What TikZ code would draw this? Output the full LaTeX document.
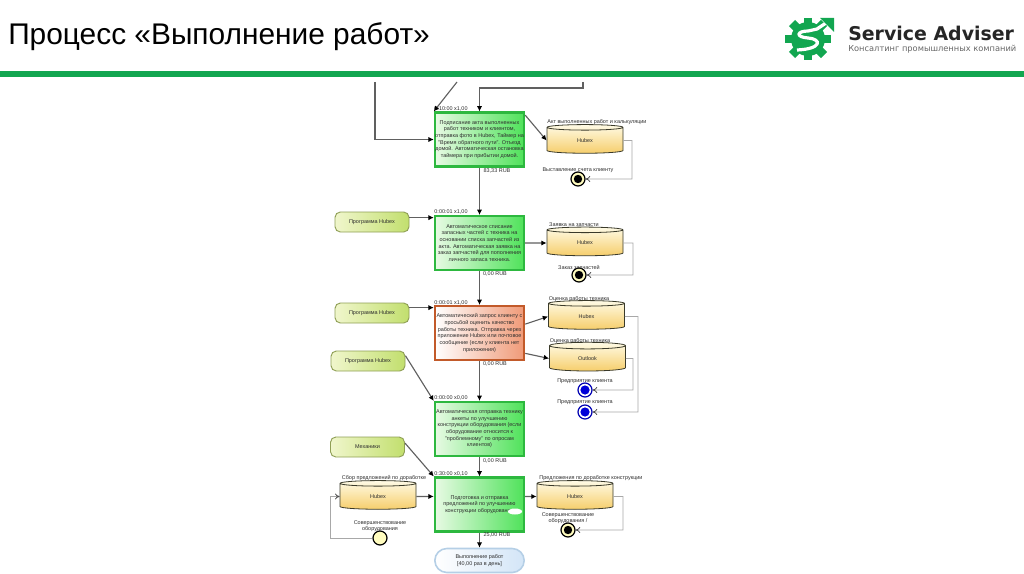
\documentclass[tikz,border=0pt]{standalone}
\usepackage{fontspec}
\setmainfont{Liberation Sans}
\newfontfamily\brandfont{DejaVu Sans}
\usetikzlibrary{arrows.meta,shapes.geometric,shapes.misc}
\definecolor{brandgreen}{HTML}{12A650}
\definecolor{boxgreen}{HTML}{2DB83F}
\definecolor{boxorange}{HTML}{C25A2A}
\definecolor{pillgreen}{HTML}{8F9F55}
\definecolor{cyledge}{HTML}{3A3A2A}
\definecolor{flowgrey}{HTML}{606060}
\definecolor{evgrey}{HTML}{A8A8A8}
\definecolor{inkgrey}{HTML}{2E2E2E}
\definecolor{greenlight}{HTML}{E8FAE4}
\definecolor{greenfull}{HTML}{4FE25A}
\definecolor{orangefull}{HTML}{F09A78}
\definecolor{pilllight}{HTML}{F0F6CC}
\definecolor{pillfull}{HTML}{C2DF6E}
\definecolor{storelight}{HTML}{FFFBE6}
\definecolor{storefull}{HTML}{F6CE6C}
\definecolor{bluefull}{HTML}{D3E5F7}
\definecolor{blueedge}{HTML}{B5CFE6}
\newcommand{\tinyfont}{\fontsize{4.1}{5}\selectfont}

\begin{document}
\begin{tikzpicture}[x=0.75pt, y=-0.75pt,
  every node/.style={font=\tinyfont, text=inkgrey, inner sep=0pt, align=center},
  taskgreen/.style={draw=boxgreen, line width=1.6pt, left color=greenlight, right color=greenfull, minimum width=67pt, minimum height=40.5pt},
  taskorange/.style={draw=boxorange, line width=1.6pt, left color=white, right color=orangefull, minimum width=67pt, minimum height=40.5pt},
  pill/.style={draw=pillgreen, line width=0.7pt, rounded corners=4pt, left color=pilllight, right color=pillfull, minimum width=55.5pt, minimum height=15pt},
  terminal/.style={draw=blueedge, line width=1.2pt, rounded rectangle, left color=white, right color=bluefull, minimum width=67pt, minimum height=18pt},
  store/.style={cylinder, shape border rotate=90, shape aspect=0.35, draw=cyledge, line width=0.6pt, top color=storelight, bottom color=storefull, minimum width=57pt, minimum height=21.5pt},
  evblack/.style={circle, draw=black, line width=0.9pt, fill=yellow!25, minimum size=10.5pt, path picture={\fill[black] (path picture bounding box.center) circle (4.2);}},
  evblue/.style={circle, draw=blue!70!black, line width=0.9pt, fill=white, minimum size=10.5pt, path picture={\fill[blue!85!black] (path picture bounding box.center) circle (4.6);}},
  evstart/.style={circle, draw=black, line width=0.9pt, fill=yellow!25, minimum size=10.5pt},
  flow/.style={draw=flowgrey, line width=0.85pt, -{Latex[black,length=4pt,width=4pt]}},
  evflow/.style={draw=evgrey, line width=0.6pt, -{To[black!70,length=3.5pt,width=4.5pt]}},
  gear/.style={draw=brandgreen, line width=6.5pt}
]
\useasboundingbox (0,0) rectangle (1024,574);

  % Header
  \node[font=\fontsize{22.4}{26}\selectfont, text=black, anchor=west] (title) at (8,37) {Процесс «Выполнение работ»};
  \fill[brandgreen] (0,71) rectangle (1024,77);

  % Logo
  \fill[brandgreen] (808,39) circle (17);
  \draw[gear] (785,39) -- (831,39);
  \draw[gear] (808,18) -- (808,60);
  \draw[gear] (792,23) -- (824,55);
  \draw[gear] (792,55) -- (824,23);
  \draw[white, line width=2.4pt] (797,50) .. controls (822,49) and (822,39) .. (808,38) .. controls (795,37) and (797,31) .. (808,31) -- (817,29) -- (826,23);
  \fill[brandgreen] (820,18) -- (834,18) -- (834,32) -- cycle;
  \node[font=\brandfont\fontsize{14.2}{16}\selectfont\bfseries, text=black!85, anchor=west] (brand) at (848,33) {Service Adviser};
  \node[font=\brandfont\fontsize{6.2}{8}\selectfont, text=black!60, anchor=west] (slogan) at (848,49) {Консалтинг промышленных компаний};

  % Tasks
  \node[taskgreen] (boxa) at (479.5,139.5) {Подписание акта выполненных\\работ техником и клиентом,\\отправка фото в Hubex, Таймер на\\"Время обратного пути". Отъезд\\домой. Автоматическая остановка\\таймера при прибытии домой.};
  \node[taskgreen] (boxb) at (479.5,243) {Автоматическое списание\\запасных частей с техника на\\основании списка запчастей из\\акта. Автоматическая заявка на\\заказ запчастей для пополнения\\личного запаса техника.};
  \node[taskorange] (boxc) at (479.5,333) {Автоматический запрос клиенту с\\просьбой оценить качество\\работы техника. Отправка через\\приложение Hubex или почтовое\\сообщение (если у клиента нет\\приложения)};
  \node[taskgreen] (boxd) at (479.5,429) {Автоматическая отправка технику\\анкеты по улучшению\\конструкции оборудования (если\\оборудование относится к\\"проблемному" по опросам\\клиентов)};
  \node[taskgreen] (boxe) at (479.5,504.5) {Подготовка и отправка\\предложений по улучшению\\конструкции оборудования};
  \fill[white] (515,511.5) ellipse (7 and 3);
  \node[terminal] (finish) at (479.5,560.5) {Выполнение работ\\{[}40,00 раз в день{]}};

  % Resources
  \node[pill] (pilla) at (372,222) {Программа Hubex};
  \node[pill] (pillb) at (372,313) {Программа Hubex};
  \node[pill] (pillc) at (368,361) {Программа Hubex};
  \node[pill] (pilld) at (367.5,447) {Механики};

  % Stores
  \node[store] (cyla) at (585,140.5) {Hubex};
  \node[store] (cylb) at (585,243) {Hubex};
  \node[store] (cylc) at (586.5,316.5) {Hubex};
  \node[store] (cyld) at (587.5,358.5) {Outlook};
  \node[store] (cyle) at (378,496.5) {Hubex};
  \node[store] (cylf) at (575,496.5) {Hubex};

  % Events
  \node[evblack] (eva) at (578,179) {};
  \node[evblack] (evb) at (579,275) {};
  \node[evblue] (evc) at (585,390) {};
  \node[evblue] (evd) at (585,412) {};
  \node[evstart] (eve) at (380,538) {};
  \node[evblack] (evf) at (568,530) {};

  % Times and costs
  \node (timea) at (451,109) {0:10:00 x1,00};
  \node (timeb) at (451,212) {0:00:01 x1,00};
  \node (timec) at (451,303) {0:00:01 x1,00};
  \node (timed) at (451,398) {0:00:00 x0,00};
  \node (timee) at (451,474) {0:30:00 x0,10};
  \node (costa) at (497,171) {83,33 RUB};
  \node (costb) at (495,274) {0,00 RUB};
  \node (costc) at (495,364) {0,00 RUB};
  \node (costd) at (495,461) {0,00 RUB};
  \node (coste) at (497,535) {25,00 RUB};

  % Store and event names
  \node (namea) at (597,122) {Акт выполненных работ и калькуляции};
  \node (nameb) at (574,225) {Заявка на запчасти};
  \node (namec) at (579,299) {Оценка работы техника};
  \node (named) at (580,341) {Оценка работы техника};
  \node (namee) at (384,478) {Сбор предложений по доработке};
  \node (namef) at (591,478) {Предложения по доработке конструкции};
  \node (labela) at (578,170) {Выставление счета клиенту};
  \node (labelb) at (579,267) {Заказ запчастей};
  \node (labelc) at (585,381) {Предприятие клиента};
  \node (labeld) at (585,402) {Предприятие клиента};
  \node (labele) at (380,526) {Совершенствование\\оборудования};
  \node (labelf) at (568,518) {Совершенствование\\оборудования /};

  % Incoming from above
  \coordinate (topa) at (375,82);
  \coordinate (topb) at (457,82);
  \coordinate (topc) at (583,82);
  \draw[flow] (topa) |- (boxa.west);
  \draw[flow] (topb) -- (boxa.north west);
  \draw[flow] (topc) -- (583,88) -| (boxa.north);

  % Main flow
  \draw[flow] (boxa) -- (boxb);
  \draw[flow] (boxb) -- (boxc);
  \draw[flow] (boxc) -- (boxd);
  \draw[flow] (boxd) -- (boxe);
  \draw[flow] (boxe) -- (finish);

  % Resources to tasks
  \draw[flow] (pilla.east |- boxb.151) -- (boxb.151);
  \draw[flow] (pillb.east |- boxc.151) -- (boxc.151);
  \draw[flow] (pillc.8) -- (boxd.north west);
  \draw[flow] (pilld.6) -- (boxe.north west);

  % Tasks and stores
  \draw[flow] (boxa.28) -- (cyla.west);
  \draw[flow] (boxb.east) -- (cylb.west);
  \draw[flow] (boxc.11) -- (cylc.west);
  \draw[flow] (boxc.-24) -- (cyld.west);
  \draw[flow] (cyle.east) -- (boxe.170);
  \draw[flow] (boxe.10) -- (cylf.west);

  % Stores to events
  \draw[evflow] (cyla.east) -- (632,140.5) |- (eva);
  \draw[evflow] (cylb.east) -- (633,243) |- (evb);
  \draw[evflow] (cylc.east) -- (638,316.5) |- (evd);
  \draw[evflow] (cyld.east) -- (633,358.5) |- (evc);
  \draw[evflow] (eve) -- (330,538) |- (cyle.west);
  \draw[evflow] (cylf.east) -- (623,496.5) |- (evf);

\end{tikzpicture}
\end{document}
